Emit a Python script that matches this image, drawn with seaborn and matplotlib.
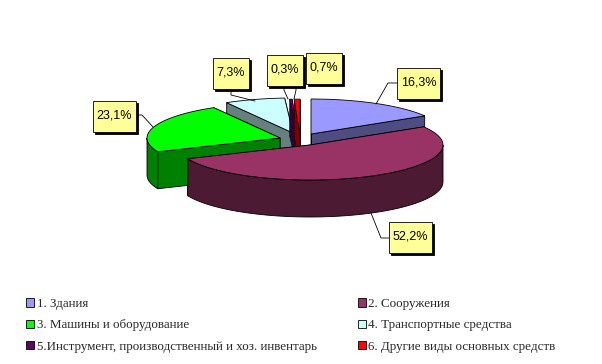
import numpy as np
import matplotlib
matplotlib.use("Agg")
import matplotlib.pyplot as plt
from matplotlib.patches import Polygon, Rectangle, Patch
import seaborn as sns

# data
categories = ["1. Здания", "2. Сооружения", "3. Машины и оборудование",
              "4. Транспортные средства", "5.Инструмент, производственный и хоз. инвентарь",
              "6. Другие виды основных средств"]
values = [16.3, 52.2, 23.1, 7.3, 0.3, 0.7]
top_colors = ["#9999ff", "#993366", "#00ff00", "#ccffff", "#660066", "#ff0000"]
side_colors = ["#4d4d80", "#4d1a33", "#008000", "#668080", "#330033", "#800000"]

# layout in pixels
apex_x = [311, 310, 280, 293, 298, 300]
apex_y = [134, 145, 138, 133, 134, 134]
rx, ry, depth = 133, 35, 37
boxes = [(397, 68, 43, 31), (389, 222, 43, 31), (93, 101, 43, 31),
         (213, 58, 36, 31), (267, 55, 36, 31), (306, 53, 36, 31)]
leaders = [[(397, 83), (388, 83), (376, 104)],
           [(389, 238), (381, 238), (371, 213)],
           [(136, 115), (142, 115), (153, 127)],
           [(231, 89), (231, 95), (255, 101)],
           [(284, 86), (284, 90), (288, 99)],
           [(296, 84), (296, 90), (294, 99)]]
draw_order = [0, 3, 4, 5, 2, 1]

sns.set_style("white")
plt.rcParams["font.family"] = ["Liberation Sans", "DejaVu Sans"]
pal_top = sns.color_palette(top_colors)
pal_side = sns.color_palette(side_colors)

fig, ax = plt.subplots(figsize=(6.02, 3.64), dpi=100)
fig.subplots_adjust(0, 0, 1, 1)
ax.set_xlim(0, 602)
ax.set_ylim(364, 0)
ax.axis("off")

edges = np.cumsum([0] + values) / sum(values) * 360


def arc(i, a0, a1, dy=0):
    t = np.radians(np.linspace(a0, a1, 60))
    return np.column_stack([apex_x[i] + rx * np.sin(t), apex_y[i] + dy - ry * np.cos(t)])


for z, i in enumerate(draw_order):
    a0, a1 = edges[i], edges[i + 1]
    apex = np.array([apex_x[i], apex_y[i]])
    lw = 0.6 if values[i] > 1 else 0.4
    # cut walls first, the top covers whatever faces backwards
    for a in (a1, a0):
        p = arc(i, a, a)[0]
        wall = [apex, p, p + [0, depth], apex + [0, depth]]
        ax.add_patch(Polygon(wall, fc=pal_side[i], ec="k", lw=lw, zorder=2 + z))
    lo, hi = max(a0, 90), min(a1, 270)
    if hi > lo:
        rim = np.vstack([arc(i, lo, hi), arc(i, hi, lo, depth)])
        ax.add_patch(Polygon(rim, fc=pal_side[i], ec="k", lw=lw, zorder=2 + z))
    top = np.vstack([apex, arc(i, a0, a1)])
    ax.add_patch(Polygon(top, fc=pal_top[i], ec="k", lw=lw, zorder=2 + z))

# value labels with shadow
for v, (x, y, w, h), line in zip(values, boxes, leaders):
    xs, ys = zip(*line)
    ax.plot(xs, ys, color="k", lw=0.6, zorder=10)
    ax.add_patch(Rectangle((x + 2, y + 2), w, h, fc="k", ec="k", lw=0.6, zorder=11))
    ax.add_patch(Rectangle((x, y), w, h, fc="#ffff99", ec="k", lw=0.6, zorder=12))
    ax.text(x + w / 2, y + h / 2 - 1, f"{v:.1f}%".replace(".", ","), ha="center", va="center",
            fontsize=9, color="k", zorder=13)

handles = [Patch(fc=c, ec="k", lw=0.6, label=n) for c, n in zip(pal_top, categories)]
# row-wise order with two columns
handles = handles[0::2] + handles[1::2]
leg = ax.legend(handles=handles, ncol=2, loc="upper left", bbox_to_anchor=(26 / 602, 1 - 298 / 364),
                frameon=False, handlelength=0.62, handleheight=0.62, handletextpad=0.2,
                labelspacing=0.72, columnspacing=3.13, borderpad=0, borderaxespad=0,
                prop={"family": "Liberation Serif", "size": 9.4})

fig.savefig("out.png", dpi=100)
